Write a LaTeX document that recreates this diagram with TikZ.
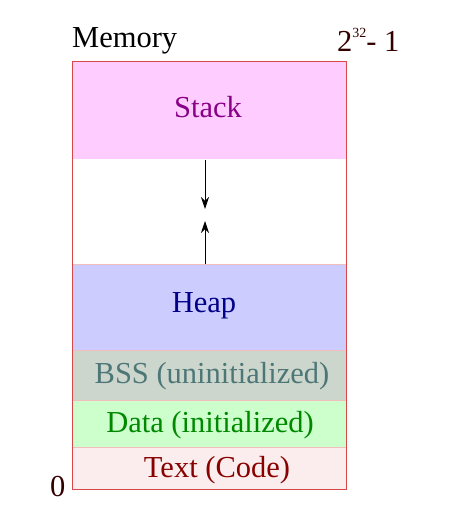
\documentclass[tikz,border=0pt]{standalone}
\usepackage{fontspec}
\setmainfont{Liberation Serif}
\usetikzlibrary{arrows.meta}
\definecolor{stackfill}{HTML}{FFCCFF}
\definecolor{heapfill}{HTML}{CCCCFF}
\definecolor{bssfill}{HTML}{CCD6CC}
\definecolor{datafill}{HTML}{CCFFCC}
\definecolor{textfill}{HTML}{FBEDED}
\definecolor{stacktxt}{HTML}{880088}
\definecolor{heaptxt}{HTML}{000088}
\definecolor{bsstxt}{HTML}{4D7777}
\definecolor{datatxt}{HTML}{008800}
\definecolor{texttxt}{HTML}{880000}
\definecolor{sepline}{HTML}{F2BDBD}
\definecolor{outline}{HTML}{D84848}
\definecolor{addr}{HTML}{330000}
\tikzset{
  seg/.style={anchor=north west, inner sep=0pt, minimum width=274pt, draw=sepline, line width=0.8pt},
  lbl/.style={inner sep=0pt, font=\fontsize{30.5}{34}\selectfont},
  growarrow/.style={-{Stealth[length=12pt,width=8pt,inset=4pt]}, line width=0.9pt, black},
}
\begin{document}
\begin{tikzpicture}[x=1pt,y=-1pt]
\useasboundingbox (0,0) rectangle (476,514);
\node[seg, fill=stackfill, minimum height=98pt] (stack) at (72,61) {};
\node[lbl, text=stacktxt] (stacklbl) at (208,107) {Stack};
\node[seg, draw=none, fill=white, minimum height=105pt] (free) at (72,159) {};
\node[seg, fill=heapfill, minimum height=86pt] (heap) at (72,264) {};
\node[lbl, text=heaptxt] (heaplbl) at (204,306) {Heap};
\node[seg, fill=bssfill, minimum height=50pt] (bss) at (72,350) {};
\node[lbl, text=bsstxt] (bsslbl) at (212,376) {BSS (uninitialized)};
\node[seg, fill=datafill, minimum height=47pt] (data) at (72,400) {};
\node[lbl, text=datatxt] (datalbl) at (210,425) {Data (initialized)};
\node[seg, fill=textfill, minimum height=42pt] (code) at (72,447) {};
\node[lbl, text=texttxt] (codelbl) at (217,470) {Text (Code)};
\node[draw=outline, line width=0.9pt, anchor=north west, inner sep=0pt, minimum width=274pt, minimum height=428pt] (mem) at (72,61) {};
\coordinate (downend) at (205,209);
\coordinate (upend) at (205,221);
\draw[growarrow] (205,160) -- (downend);
\draw[growarrow] (205,263.5) -- (upend);
\node[lbl, anchor=base west] (memlbl) at (72,47) {Memory};
\node[lbl, anchor=base west, text=addr] (top) at (337,51) {2\raisebox{14pt}{\fontsize{14}{16}\selectfont 32}- 1};
\node[lbl, anchor=base west, text=addr] (zero) at (50,496) {0};
\end{tikzpicture}
\end{document}
